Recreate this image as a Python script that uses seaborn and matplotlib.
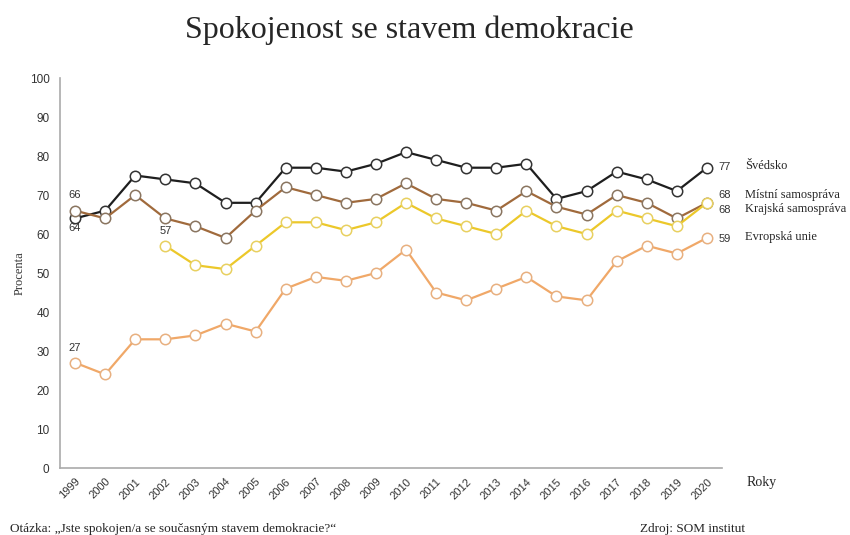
import pandas as pd
import matplotlib
matplotlib.use("Agg")
import matplotlib.pyplot as plt
import seaborn as sns

# data
years = list(range(1999, 2021))
svedsko = [64, 66, 75, 74, 73, 68, 68, 77, 77, 76, 78, 81, 79, 77, 77, 78, 69, 71, 76, 74, 71, 77]
mistni = [66, 64, 70, 64, 62, 59, 66, 72, 70, 68, 69, 73, 69, 68, 66, 71, 67, 65, 70, 68, 64, 68]
krajska = [None, None, None, 57, 52, 51, 57, 63, 63, 61, 63, 68, 64, 62, 60, 66, 62, 60, 66, 64, 62, 68]
eu = [27, 24, 33, 33, 34, 37, 35, 46, 49, 48, 50, 56, 45, 43, 46, 49, 44, 43, 53, 57, 55, 59]

series_names = ["Švédsko", "Místní samospráva", "Krajská samospráva", "Evropská unie"]
series_values = [svedsko, mistni, krajska, eu]
colors = ["#1e1e1e", "#a06a3c", "#ecc82a", "#f0a868"]
edge_colors = ["#333333", "#8a7560", "#e8d060", "#e8b080"]

sns.set_style("white")
plt.rcParams["font.family"] = ["Liberation Sans", "DejaVu Sans"]

rows = []
for name, vals in zip(series_names, series_values):
    for y, v in zip(years, vals):
        if v is not None:
            rows.append({"Rok": y, "Hodnota": v, "Rada": name})
df = pd.DataFrame(rows)

fig = plt.figure(figsize=(8.5, 5.35), dpi=100)
ax = fig.add_axes([0.0706, 0.1252, 0.7788, 0.7290])

for name, c, ec in zip(series_names, colors, edge_colors):
    sns.lineplot(data=df[df["Rada"] == name], x="Rok", y="Hodnota", ax=ax,
                 color=c, linewidth=1.6, marker="o", markersize=7.5,
                 markerfacecolor="white", markeredgecolor=ec, markeredgewidth=1.1,
                 zorder=3)

ax.set_xlim(1998.5, 2020.5)
ax.set_ylim(0, 100)
ax.set_yticks(range(0, 101, 10))
ax.set_xticks(years)
ax.set_xticklabels([str(y) for y in years], rotation=45, ha="right",
                   rotation_mode="anchor", fontsize=8, color="#333333")
ax.set_xticks([y - 0.5 for y in years] + [2020.5], minor=True)
ax.tick_params(axis="x", which="major", length=0, pad=6)
ax.tick_params(axis="x", which="minor", length=4, color="#aaaaaa", width=1)
ax.tick_params(axis="y", length=4, color="#aaaaaa", labelsize=8.5, labelcolor="#333333")
for s in ["top", "right"]:
    ax.spines[s].set_visible(False)
for s in ["left", "bottom"]:
    ax.spines[s].set_color("#aaaaaa")
    ax.spines[s].set_linewidth(1.2)

ax.set_xlabel("")
ax.set_ylabel("Procenta", family="Liberation Serif", fontsize=9, color="#333333", labelpad=3)
ax.text(2021.3, -3.7, "Roky", family="Liberation Serif", fontsize=10, ha="left", va="center",
        clip_on=False)

# start labels
ax.text(1999, 70, "66", fontsize=8, ha="center", va="center", color="#333333")
ax.text(1999, 61.5, "64", fontsize=8, ha="center", va="center", color="#333333")
ax.text(2002, 60.8, "57", fontsize=8, ha="center", va="center", color="#333333")
ax.text(1999, 30.8, "27", fontsize=8, ha="center", va="center", color="#333333")

# end labels
end_vals = ["77", "68", "68", "59"]
end_y = [77.2, 70, 66.2, 58.7]
name_y = [77.4, 70, 66.4, 59.2]
for v, yv, n, ny in zip(end_vals, end_y, series_names, name_y):
    ax.text(2020.38, yv, v, fontsize=8, ha="left", va="center", color="#333333", clip_on=False)
    ax.text(2021.28, ny, n, family="Liberation Serif", fontsize=9, ha="left", va="center",
            clip_on=False)

fig.text(0.482, 0.943, "Spokojenost se stavem demokracie", family="Liberation Serif",
         fontsize=23, ha="center", va="center")
fig.text(0.012, 0.011, "Otázka: „Jste spokojen/a se současným stavem demokracie?“",
         family="Liberation Serif", fontsize=9.5, ha="left", va="center")
fig.text(0.753, 0.011, "Zdroj: SOM institut", family="Liberation Serif", fontsize=9.5,
         ha="left", va="center")

fig.savefig("out.png", dpi=100)
